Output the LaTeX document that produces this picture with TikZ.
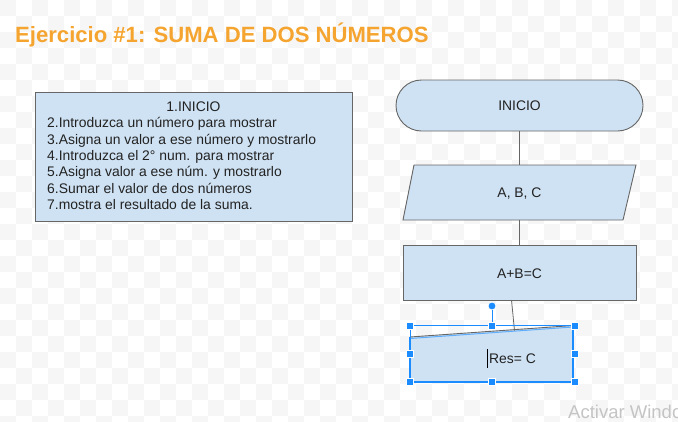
\documentclass[tikz,border=0pt]{standalone}
\usepackage{fontspec}
\setmainfont{Liberation Sans}
\definecolor{boxfill}{HTML}{CFE2F3}
\definecolor{boxline}{HTML}{666666}
\definecolor{titleor}{HTML}{F5A52F}
\definecolor{selblue}{HTML}{1A8CFF}
\definecolor{txt}{HTML}{222222}
\definecolor{wmark}{HTML}{C4C4C4}
\definecolor{chk}{HTML}{F6F6F6}
\begin{document}
\begin{tikzpicture}[x=1pt,y=-1pt,
  shapebox/.style={draw=boxline,fill=boxfill,line width=0.9pt},
  lbl/.style={font=\fontsize{13.9}{16}\selectfont,text=txt,inner sep=0pt},
  wire/.style={draw=boxline,line width=0.8pt},
  handle/.style={draw=white,fill=selblue,line width=0.8pt,minimum size=7pt,inner sep=0pt,rectangle},
  selline/.style={draw=selblue,line width=1pt}]
\useasboundingbox[fill=white] (0,0) rectangle (678,421);
% faint checkerboard
\foreach \i in {0,...,42}{\foreach \j in {0,...,26}{%
  \pgfmathtruncatemacro{\parity}{mod(\i+\j,2)}%
  \ifnum\parity=0 \fill[chk] (\i*16,\j*16) rectangle ++(16,16);\fi}}
% title
\node[anchor=base west,inner sep=0pt,text=titleor,font=\fontsize{22.1}{26}\selectfont\bfseries] (title) at (15,42) {Ejercicio \#1: SUMA DE DOS NÚMEROS};
% left box
\node[shapebox,minimum width=317pt,minimum height=129pt,inner sep=0pt] (steps) at (193.5,156.5) {};
\node[lbl,anchor=base] (s1) at (193.5,111) {1.INICIO};
\foreach \t/\y [count=\k from 2] in {%
  {2.Introduzca un número para mostrar}/127.8,
  {3.Asigna un valor a ese número y mostrarlo}/144.1,
  {4.Introduzca el 2° num. para mostrar}/160.4,
  {5.Asigna valor a ese núm. y mostrarlo}/176.7,
  {6.Sumar el valor de dos números}/193,
  {7.mostra el resultado de la suma.}/209.3}
  \node[lbl,anchor=base west] (s\k) at (47,\y) {\t};
% flowchart
\node[shapebox,rounded corners=25.5pt,minimum width=247pt,minimum height=51pt,inner sep=0pt] (inicio) at (519.5,105.5) {};
\node[lbl] (inicioT) at (519.5,106) {INICIO};
\draw[shapebox] (414,165) -- (636,165) -- (623,220) -- (403,220) -- cycle;
\node[minimum width=200pt,minimum height=55pt,inner sep=0pt] (io) at (519.5,192.5) {};
\node[lbl] (ioT) at (519.5,193.5) {A, B, C};
\node[shapebox,minimum width=233pt,minimum height=55pt,inner sep=0pt] (calc) at (519.5,272.5) {};
\node[lbl] (calcT) at (519.5,273.5) {A+B=C};
\draw[wire] (inicio.south) -- (io.north);
\draw[wire] (io.south) -- (calc.north);
% output shape (selected)
\fill[boxfill] (410,337) -- (573,325.5) -- (573,382) -- (410,382) -- cycle;
\draw[selblue!70,line width=1pt] (410,338.5) -- (573,327) ;
\draw[selline,line width=1.3pt] (573,325.5) -- (573,382) -- (410,382) -- (410,337);
\draw[boxline,line width=0.9pt] (410,337) -- (573,325.5);
\coordinate (calcout) at (511.5,300);
\coordinate (resin) at (514.5,330.5);
\draw[wire] (calcout) -- (resin);
\node[lbl,anchor=west] (resT) at (489,359) {Res= C};
\draw[black,line width=1.8pt] (487.5,349) -- (487.5,368);
% selection frame
\draw[selline] (410,325.5) -- (575,325.5);
\draw[selline] (410,325.5) -- (410,382);
\coordinate (rotbase) at (492,325.5);
\node[circle,fill=selblue,draw=white,line width=0.8pt,minimum size=8pt,inner sep=0pt] (rot) at (492,306) {};
\draw[selline] (rot) -- (rotbase);
\foreach \p/\n in {{410,325.5}/h1,{492,325.5}/h2,{575,325.5}/h3,{410,354}/h4,{575,354}/h5,{410,382}/h6,{492,382}/h7,{575,382}/h8}
  \node[handle] (\n) at (\p) {};
% watermark (cut off at the right edge, as in the reference)
\begin{scope}
\clip (0,0) rectangle (678,421);
\node[anchor=base west,inner sep=0pt,text=wmark,font=\fontsize{18.5}{21}\selectfont] (wm) at (568,418.5) {Activar Windows};
\end{scope}
\end{tikzpicture}
\end{document}
